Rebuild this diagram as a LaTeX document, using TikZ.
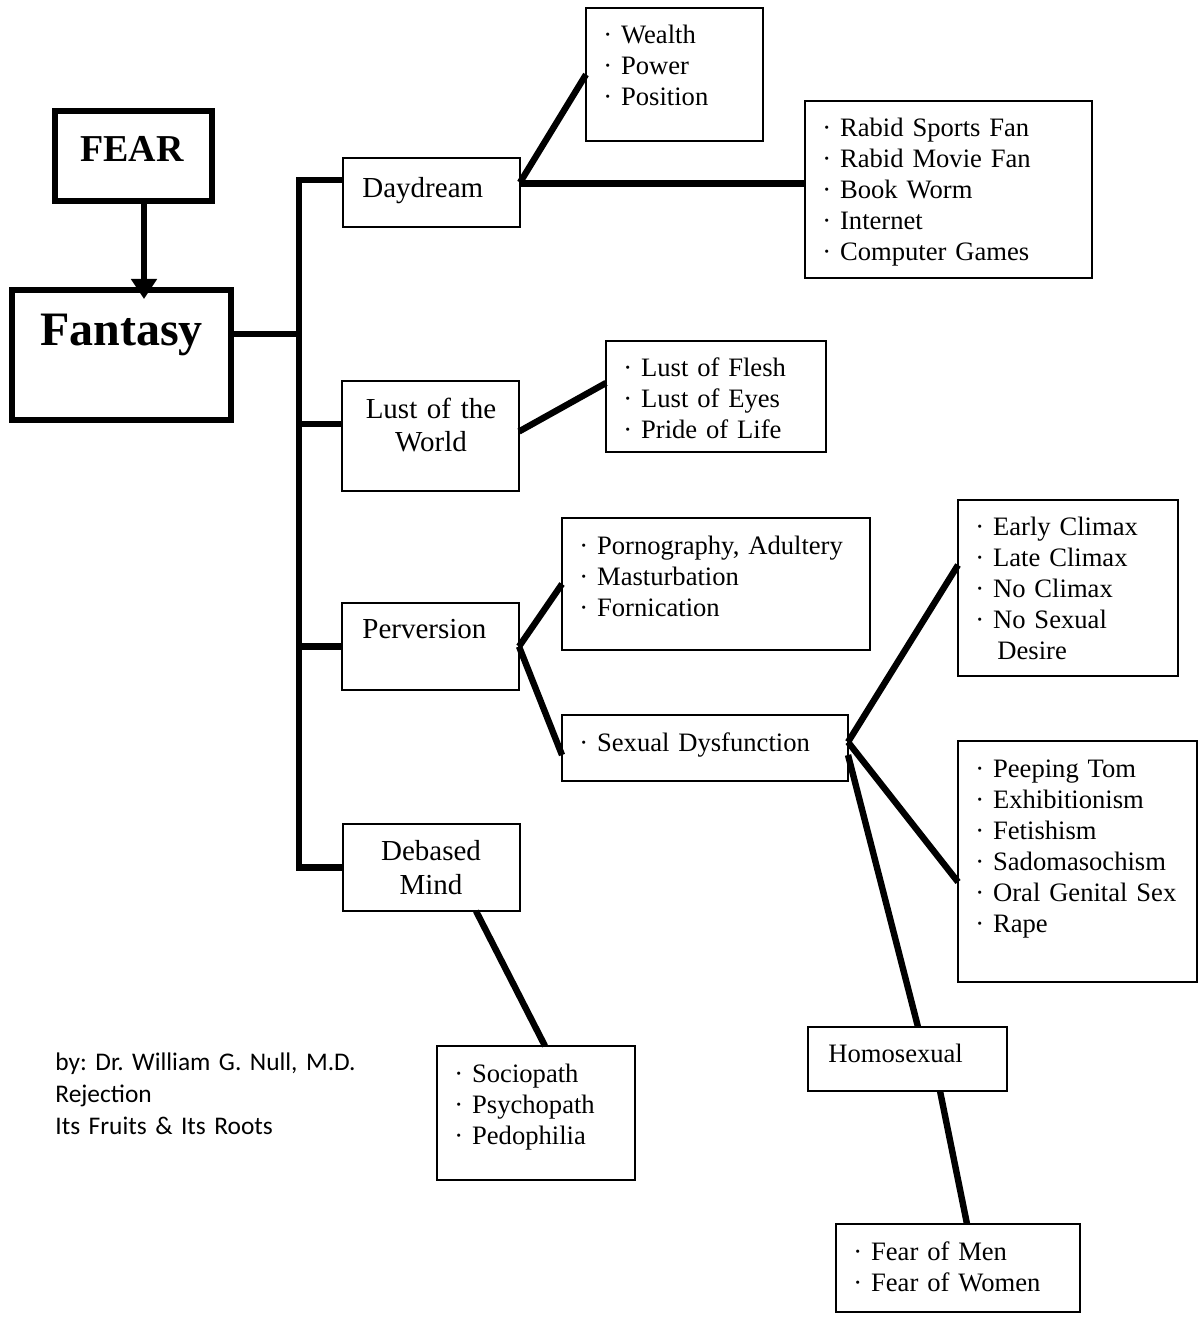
\documentclass[tikz,border=0pt]{standalone}
\usepackage{fontspec}
\setmainfont{Liberation Serif}
\newfontfamily\footfont{Carlito}
\usetikzlibrary{arrows.meta,calc}
\begin{document}
\frenchspacing
\begin{tikzpicture}[x=0.5pt,y=-0.5pt,
  box/.style={draw, line width=1pt, anchor=north west, inner sep=0pt, outer sep=0pt},
  boldbox/.style={draw, line width=2.6pt, anchor=north west, inner sep=0pt, outer sep=0pt},
  conn/.style={line width=3.2pt},
  item/.style={anchor=base west, inner sep=0pt, text width=170pt, align=left,
               font=\fontsize{13.3}{15.5}\selectfont},
  head/.style={anchor=base west, inner sep=0pt, font=\fontsize{14.5}{17}\selectfont},
  headc/.style={anchor=base, inner sep=0pt, text width=100pt, align=center,
               font=\fontsize{14.5}{17}\selectfont},
]
\useasboundingbox (0,0) rectangle (1199,1320);
\fill[white] (0,0) rectangle (1199,1320);

% ---- boxes ----
\node[boldbox, minimum width=78.5pt, minimum height=45pt] (fear) at (55,111) {};
\node[boldbox, minimum width=109.5pt, minimum height=65pt] (fantasy) at (12,290) {};
\node[box, minimum width=88.5pt, minimum height=34.5pt] (day) at (343,158) {};
\node[box, minimum width=88.5pt, minimum height=66.5pt] (wealth) at (586,8) {};
\node[box, minimum width=143.5pt, minimum height=88.5pt] (rabid) at (805,101) {};
\node[box, minimum width=88.5pt, minimum height=55pt] (lust) at (342,381) {};
\node[box, minimum width=110pt, minimum height=55.5pt] (flesh) at (606,341) {};
\node[box, minimum width=88.5pt, minimum height=43.5pt] (perv) at (342,603) {};
\node[box, minimum width=154pt, minimum height=66pt] (porno) at (562,518) {};
\node[box, minimum width=143pt, minimum height=33pt] (sexdys) at (562,715) {};
\node[box, minimum width=110pt, minimum height=88pt] (early) at (958,500) {};
\node[box, minimum width=119.5pt, minimum height=120.5pt] (peep) at (958,741) {};
\node[box, minimum width=99.5pt, minimum height=32pt] (homo) at (808,1027) {};
\node[box, minimum width=122pt, minimum height=44pt] (fearmen) at (836,1224) {};
\node[box, minimum width=88.5pt, minimum height=43.5pt] (deb) at (343,824) {};
\node[box, minimum width=99pt, minimum height=67pt] (socio) at (437,1046) {};

% ---- texts ----
\node[anchor=base, inner sep=0pt, font=\bfseries\fontsize{19}{22}\selectfont] (feart) at (132,162) {FEAR};
\node[anchor=base, inner sep=0pt, font=\bfseries\fontsize{24}{28}\selectfont] (fantt) at (121.5,346) {Fantasy};
\node[head] (dayt) at (362,198) {Daydream};
\node[headc] (lustt) at (431,418) {Lust of the\\World};
\node[head] (pervt) at (362,638) {Perversion};
\node[headc] (debt) at (431,860) {Debased\\Mind};
\node[item] (wealtht) at (603,44) {· Wealth\\· Power\\· Position};
\node[item] (rabidt) at (822,137) {· Rabid Sports Fan\\· Rabid Movie Fan\\· Book Worm\\· Internet\\· Computer Games};
\node[item] (flesht) at (623,377) {· Lust of Flesh\\· Lust of Eyes\\· Pride of Life};
\node[item] (pornot) at (579,554) {· Pornography, Adultery\\· Masturbation\\· Fornication};
\node[item] (sexdyst) at (579,751) {· Sexual Dysfunction};
\node[item] (earlyt) at (975,535) {· Early Climax\\· Late Climax\\· No Climax\\· No Sexual\\\hspace*{11pt}Desire};
\node[item] (peept) at (975,777) {· Peeping Tom\\· Exhibitionism\\· Fetishism\\· Sadomasochism\\· Oral Genital Sex\\· Rape};
\node[item] (homot) at (828,1062) {Homosexual};
\node[item] (fearment) at (853,1260) {· Fear of Men\\· Fear of Women};
\node[item] (sociot) at (454,1082) {· Sociopath\\· Psychopath\\· Pedophilia};
\node[anchor=base west, inner sep=0pt, text width=200pt, align=left,
      font=\footfont\fontsize{12.7}{16}\selectfont] (credit) at (55,1070)
      {by: Dr. William G. Null, M.D.\\Rejection\\Its Fruits \& Its Roots};

% ---- connectors ----
\coordinate (tx) at (299,334);
\draw[conn, -{Triangle[width=12.5pt,length=10pt]}] ([xshift=5.25pt]fear.south) -- ([xshift=5.25pt,yshift=-4.5pt]fear.south |- fantasy.north);
\draw[conn] ([yshift=10.5pt]fantasy.east) -- ([yshift=10.5pt]fantasy.east -| tx);
\draw[conn] ([yshift=6.25pt]day.west) -| (tx) |- (deb.west);
\draw[conn] ([yshift=6pt]lust.west) -- ([yshift=6pt]lust.west -| tx);
\draw[conn] (perv.west) -- (perv.west -| tx);
\draw[conn] ([yshift=5pt]day.east) -- (wealth.west);
\draw[conn] ([yshift=4.5pt]day.east) -- ([yshift=4.5pt]day.east -| rabid.west);
\draw[conn] ([yshift=2.25pt]lust.east) -- ([yshift=6.75pt]flesh.west);
\draw[conn] (perv.east) -- (porno.west);
\draw[conn] (perv.east) -- ([yshift=-3.5pt]sexdys.west);
\draw[conn] ([yshift=3pt]sexdys.east) -- ([yshift=11.5pt]early.west);
\draw[conn] ([yshift=3pt]sexdys.east) -- ([yshift=-10.25pt]peep.west);
\draw[conn] ([yshift=-3.5pt]sexdys.east) -- ([xshift=5.25pt]homo.north);
\draw[conn] ([xshift=16.25pt]homo.south) -- ([xshift=4.5pt]fearmen.north);
\draw[conn] ([xshift=22.25pt]deb.south) -- ([xshift=4.5pt]socio.north);
\end{tikzpicture}
\end{document}
